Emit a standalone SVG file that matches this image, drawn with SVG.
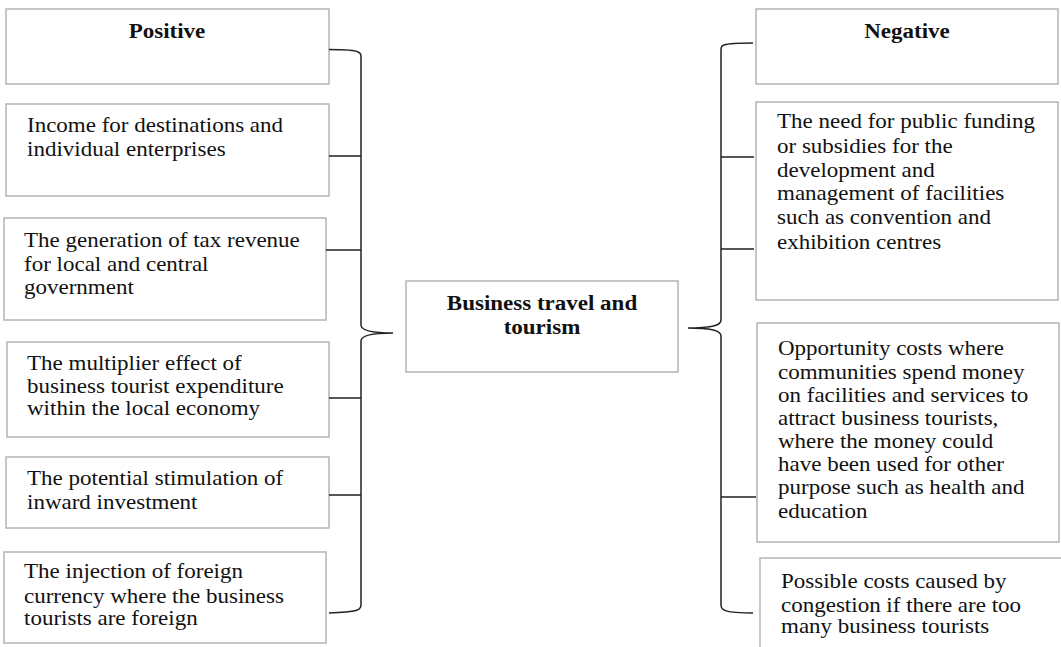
<svg xmlns="http://www.w3.org/2000/svg" width="1061" height="647" viewBox="0 0 1061 647">
<style>
.box{fill:#fff;stroke:#b4b4b4;stroke-width:1.5}
.t{font-family:"Liberation Serif","Times New Roman",serif;font-size:20px;fill:#111}
.b{font-weight:bold;text-anchor:middle}
.c{fill:none;stroke:#222;stroke-width:1.5}
</style>
<rect width="1061" height="647" fill="#fff"/>
<g id="positive"><rect class="box" x="6" y="9" width="323" height="75"/><g transform="translate(167 0) scale(1.15 1)"><text class="t b" x="0" y="38">Positive</text></g></g>
<g id="p1"><rect class="box" x="6" y="104" width="323" height="92"/><g transform="translate(27 0) scale(1.15 1)"><text class="t" x="0" y="132">Income for destinations and</text><text class="t" x="0" y="156">individual enterprises</text></g></g>
<g id="p2"><rect class="box" x="4" y="218" width="322" height="102"/><g transform="translate(24 0) scale(1.15 1)"><text class="t" x="0" y="247">The generation of tax revenue</text><text class="t" x="0" y="271">for local and central</text><text class="t" x="0" y="294">government</text></g></g>
<g id="p3"><rect class="box" x="7" y="342" width="322" height="95"/><g transform="translate(27 0) scale(1.15 1)"><text class="t" x="0" y="370">The multiplier effect of</text><text class="t" x="0" y="393">business tourist expenditure</text><text class="t" x="0" y="415">within the local economy</text></g></g>
<g id="p4"><rect class="box" x="6" y="457" width="323" height="71"/><g transform="translate(27 0) scale(1.15 1)"><text class="t" x="0" y="485">The potential stimulation of</text><text class="t" x="0" y="509">inward investment</text></g></g>
<g id="p5"><rect class="box" x="4" y="552" width="322" height="91"/><g transform="translate(24 0) scale(1.15 1)"><text class="t" x="0" y="578">The injection of foreign</text><text class="t" x="0" y="603">currency where the business</text><text class="t" x="0" y="625">tourists are foreign</text></g></g>
<g id="center"><rect class="box" x="406" y="281" width="272" height="91"/><g transform="translate(542 0) scale(1.15 1)"><text class="t b" x="0" y="310">Business travel and</text><text class="t b" x="0" y="334">tourism</text></g></g>
<g id="negative"><rect class="box" x="756" y="9" width="302" height="75"/><g transform="translate(907 0) scale(1.15 1)"><text class="t b" x="0" y="38">Negative</text></g></g>
<g id="n1"><rect class="box" x="756" y="102" width="302" height="198"/><g transform="translate(777 0) scale(1.15 1)"><text class="t" x="0" y="128">The need for public funding</text><text class="t" x="0" y="153">or subsidies for the</text><text class="t" x="0" y="177">development and</text><text class="t" x="0" y="200">management of facilities</text><text class="t" x="0" y="224">such as convention and</text><text class="t" x="0" y="249">exhibition centres</text></g></g>
<g id="n2"><rect class="box" x="757" y="323" width="302" height="219"/><g transform="translate(778 0) scale(1.15 1)"><text class="t" x="0" y="355">Opportunity costs where</text><text class="t" x="0" y="379">communities spend money</text><text class="t" x="0" y="402">on facilities and services to</text><text class="t" x="0" y="425">attract business tourists,</text><text class="t" x="0" y="448">where the money could</text><text class="t" x="0" y="471">have been used for other</text><text class="t" x="0" y="494">purpose such as health and</text><text class="t" x="0" y="518">education</text></g></g>
<g id="n3"><rect class="box" x="760" y="558" width="310" height="100"/><g transform="translate(781 0) scale(1.15 1)"><text class="t" x="0" y="588">Possible costs caused by</text><text class="t" x="0" y="612">congestion if there are too</text><text class="t" x="0" y="633">many business tourists</text></g></g>
<g id="connectors">
<path class="c" d="M329,49.5 C345,49.5 355,50 358,52 C361,53 361,55 361,58 L361,325 C361,330 370,333 393,333 C370,333 361,336 361,341 L361,605 C361,610 358,612 329,613"/>
<path class="c" d="M329,156 H361 M326,250 H361 M329,398 H361 M329,495 H361"/>
<path class="c" d="M753,43 C735,43 727,44 724,45 C721,46 721,48 721,51 L721,320 C721,325 714,328 688,328 C714,328 721,331 721,336 L721,605 C721,610 724,613 753,613"/>
<path class="c" d="M721,157 H754 M721,249 H754 M721,497 H756"/>
</g>
</svg>
